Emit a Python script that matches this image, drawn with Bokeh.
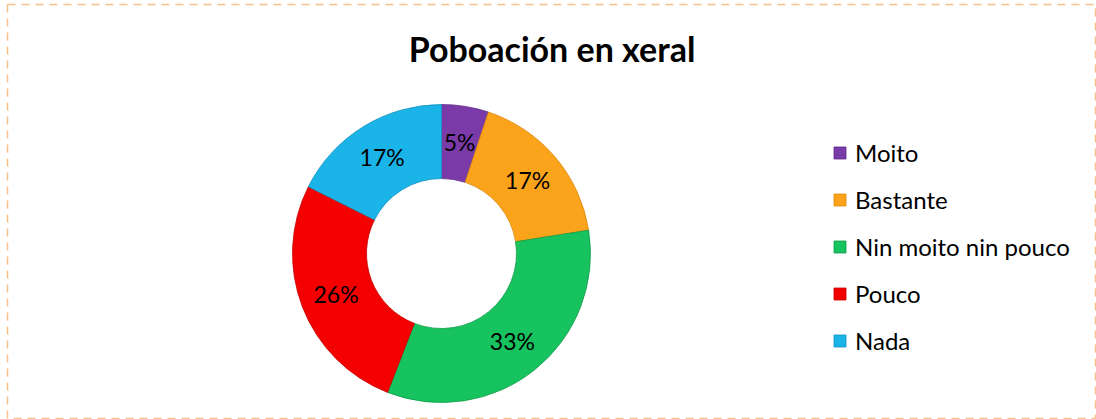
import numpy as np
from bokeh.plotting import figure
from bokeh.models import Range1d, ColumnDataSource, Label, Legend, LegendItem
from bokeh.core.properties import value
from bokeh.embed import file_html
from bokeh.resources import INLINE

# ---- data ----
title_text = "Poboación en xeral"
categories = ["Moito", "Bastante", "Nin moito nin pouco", "Pouco", "Nada"]
shares = [5.1, 17.4, 33.4, 26.5, 17.6]
labels = ["5%", "17%", "33%", "26%", "17%"]
colors = ["#7a3aa8", "#fca31c", "#17c35e", "#f50000", "#1ab4e8"]
edge_colors = ["#5e2a86", "#d98a10", "#0f9a48", "#c40000", "#1391bd"]

W, H = 1096, 419
BL, BT = 7, 4                 # frame offset (left, top)
FW, FH = W - BL, H - BT       # frame size
CX, CY = 441 - BL, 253 - BT   # donut centre, px from frame top-left
R_OUT, R_IN = 149, 75
FONT = "Lato"

p = figure(width=W, height=H, output_backend="svg", toolbar_location=None,
           x_range=Range1d(-CX, FW - CX), y_range=Range1d(-(FH - CY), CY),
           min_border_left=BL, min_border_top=BT, min_border_right=0,
           min_border_bottom=0, match_aspect=False)
p.axis.visible = False
p.grid.visible = False
p.background_fill_color = "white"
p.border_fill_color = "white"
p.outline_line_color = "#f8c08a"
p.outline_line_width = 1.5
p.outline_line_dash = "8 6"

vals = np.array(shares, dtype=float)
frac = vals / vals.sum()
cum = np.concatenate([[0.0], np.cumsum(frac)])
start = np.pi / 2 - 2 * np.pi * cum[1:]
end = np.pi / 2 - 2 * np.pi * cum[:-1]
mid = (start + end) / 2
r_lab = (R_OUT + R_IN) / 2 + 1

src = ColumnDataSource(dict(cat=categories, lx=r_lab * np.cos(mid),
                            ly=r_lab * np.sin(mid), lab=labels))

renderers = []
for i in range(len(categories)):
    r = p.annular_wedge(x=0, y=0, inner_radius=R_IN, outer_radius=R_OUT,
                        start_angle=start[i], end_angle=end[i],
                        fill_color=colors[i], line_color=edge_colors[i],
                        line_width=0.8)
    renderers.append(r)

p.text(x="lx", y="ly", text="lab", source=src, text_align="center",
       text_baseline="middle", text_font=value(FONT), text_font_size="23px",
       text_color="black")

legend = Legend(items=[LegendItem(label=c, renderers=[r]) for c, r in zip(categories, renderers)],
                location=(825, 64), label_text_font=FONT, label_text_font_size="24px",
                label_text_color="black", glyph_width=15, glyph_height=15,
                label_standoff=8, spacing=18, border_line_color=None,
                background_fill_alpha=0, padding=10)
p.add_layout(legend, "center")

p.add_layout(Label(x=544.5, y=371, x_units="screen", y_units="screen",
                   text=title_text, text_font=FONT, text_font_size="34px",
                   text_font_style="bold", text_align="center",
                   text_baseline="alphabetic", text_color="black"))

open("out.html", "w").write(file_html(p, INLINE))
